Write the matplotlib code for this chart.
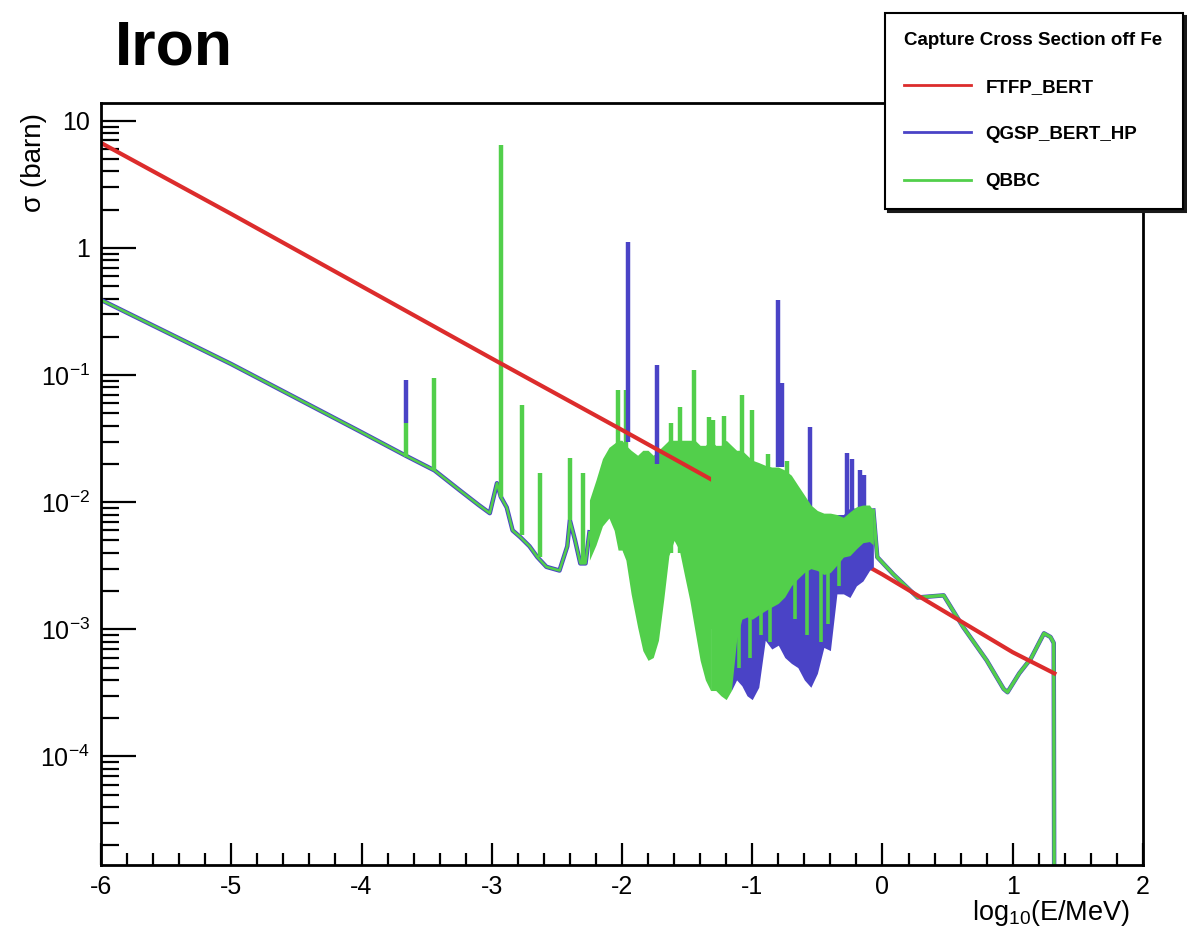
import numpy as np
import matplotlib
matplotlib.use('Agg')
import matplotlib.pyplot as plt
from matplotlib.ticker import MultipleLocator, LogLocator, NullFormatter

plt.rcParams['font.family'] = ['Liberation Sans', 'DejaVu Sans']
plt.rcParams['mathtext.fontset'] = 'custom'
plt.rcParams['mathtext.rm'] = 'Liberation Sans'
plt.rcParams['mathtext.it'] = 'Liberation Sans:italic'
plt.rcParams['mathtext.bf'] = 'Liberation Sans:bold'
plt.rcParams['mathtext.default'] = 'regular'

# FTFP_BERT: smooth capture cross section (log10 E/MeV, barn)
ftfp_x = [-6.0, -5.0, -4.0, -3.0, -2.0, -1.0, 0.0, 1.0, 1.32]
ftfp_y = [6.7, 1.85, 0.50, 0.135, 0.037, 0.0100, 0.0027, 0.00066, 0.00045]

# HP data below the resonance region (same for QGSP_BERT_HP and QBBC)
hp_low_x = [-6.0, -5.0, -4.0, -3.66, -3.44, -3.25, -3.10, -3.015, -2.96, -2.93,
            -2.885, -2.84, -2.78, -2.71, -2.65, -2.58, -2.48, -2.42, -2.40,
            -2.36, -2.32, -2.28, -2.25]
hp_low_y = [0.39, 0.122, 0.0355, 0.0232, 0.0178, 0.0125, 0.0095, 0.0082, 0.0141, 0.011,
            0.0091, 0.0060, 0.0053, 0.0045, 0.0037, 0.0031, 0.0029, 0.0045, 0.0072,
            0.0050, 0.0033, 0.0033, 0.0058]

# HP data above the resolved resonances, up to 20 MeV
hp_high_x = [-0.07, -0.04, 0.085, 0.27, 0.47, 0.62, 0.80, 0.93, 0.96, 1.05,
             1.14, 1.24, 1.29, 1.315, 1.32]
hp_high_y = [0.0086, 0.0037, 0.0027, 0.00178, 0.00185, 0.00104, 0.00057, 0.00034, 0.00032, 0.00045,
             0.00059, 0.00093, 0.00087, 0.00078, 1e-6]

# QBBC resonance region: lower / upper envelope of the rapidly varying histogram
res_x = np.array([-2.25, -2.20, -2.15, -2.10, -2.06, -2.03, -2.00, -1.97, -1.93, -1.88,
                  -1.84, -1.80, -1.76, -1.72, -1.68, -1.64, -1.60, -1.56, -1.52, -1.48,
                  -1.44, -1.40, -1.36, -1.32, -1.28, -1.24, -1.20, -1.16, -1.12, -1.08,
                  -1.04, -1.00, -0.95, -0.90, -0.85, -0.80, -0.75, -0.70, -0.65, -0.60,
                  -0.55, -0.50, -0.45, -0.40, -0.35, -0.30, -0.25, -0.20, -0.15, -0.10,
                  -0.07])
qbbc_lo = [0.0035, 0.0046, 0.0065, 0.0075, 0.0060, 0.0042, 0.0042, 0.0035, 0.0019, 0.00104,
           0.00068, 0.00057, 0.0006, 0.00082, 0.0017, 0.0038, 0.0050, 0.0042, 0.00266, 0.0017,
           0.00098, 0.00057, 0.0004, 0.00033, 0.00033, 0.0003, 0.00028, 0.00033, 0.00082, 0.0012,
           0.00125, 0.0012, 0.0013, 0.0014, 0.0015, 0.0016, 0.0018, 0.0022, 0.0025, 0.0028,
           0.0030, 0.0029, 0.0027, 0.0028, 0.0032, 0.0037, 0.0038, 0.0043, 0.0048, 0.0049,
           0.0046]
qbbc_hi = [0.0104, 0.0149, 0.022, 0.027, 0.029, 0.0307, 0.0307, 0.028, 0.0256, 0.0234,
           0.0256, 0.0256, 0.0234, 0.0256, 0.028, 0.0307, 0.0307, 0.0307, 0.0307, 0.0307,
           0.0307, 0.028, 0.028, 0.0307, 0.028, 0.028, 0.0307, 0.028, 0.0256, 0.0256,
           0.0234, 0.0214, 0.0205, 0.0195, 0.0189, 0.0189, 0.0179, 0.0163, 0.0136, 0.0114,
           0.0095, 0.0086, 0.0082, 0.0082, 0.0080, 0.0076, 0.0084, 0.0092, 0.0095, 0.0095,
           0.0086]

# QGSP_BERT_HP resonance region envelope
qgsp_res_x = [-1.16, -1.12, -1.08, -1.04, -1.00, -0.95, -0.90, -0.85, -0.80, -0.75,
              -0.70, -0.65, -0.60, -0.55, -0.50, -0.45, -0.40, -0.35, -0.30, -0.25,
              -0.20, -0.15, -0.10, -0.07]
qgsp_lo = [0.00033, 0.0004, 0.00036, 0.0003, 0.00028, 0.00035, 0.00082, 0.0007, 0.00075, 0.0006,
           0.00054, 0.0005, 0.0004, 0.00035, 0.00045, 0.00072, 0.00068, 0.0019, 0.0019, 0.00178,
           0.0022, 0.0024, 0.0029, 0.0031]
qgsp_hi = [0.02, 0.02, 0.02, 0.02, 0.02, 0.02, 0.018, 0.018, 0.018, 0.016,
           0.015, 0.013, 0.011, 0.009, 0.008, 0.008, 0.008, 0.008, 0.008, 0.009,
           0.009, 0.009, 0.009, 0.008]

# narrow resonances (position, foot, peak)
qbbc_peak_x = [-3.655, -3.44, -2.93, -2.77, -2.63, -2.40, -2.30, -2.03, -1.97,
               -1.62, -1.555, -1.45, -1.33, -1.305, -1.22, -1.08, -1.00, -0.88, -0.73]
qbbc_peak_base = [0.0225, 0.0178, 0.011, 0.0055, 0.0037, 0.0072, 0.0033, 0.006, 0.004,
                  0.004, 0.004, 0.002, 0.001, 0.001, 0.001, 0.002, 0.002, 0.003, 0.003]
qbbc_peak_top = [0.042, 0.095, 6.4, 0.058, 0.017, 0.0224, 0.017, 0.076, 0.076,
                 0.042, 0.056, 0.11, 0.047, 0.044, 0.048, 0.07, 0.053, 0.024, 0.021]

# deep QBBC minima reaching into the QGSP_BERT_HP band
qbbc_dip_x = [-1.10, -1.02, -0.93, -0.86, -0.67, -0.58, -0.47, -0.42, -0.33]
qbbc_dip_low = [0.0005, 0.0006, 0.0009, 0.0008, 0.0012, 0.0009, 0.0008, 0.0011, 0.0022]
qbbc_dip_top = [0.005, 0.005, 0.005, 0.005, 0.005, 0.005, 0.005, 0.005, 0.005]

qgsp_peak_x = [-3.655, -1.954, -1.731, -0.80, -0.77, -0.554, -0.27, -0.235, -0.17, -0.145]
qgsp_peak_base = [0.042, 0.03, 0.02, 0.019, 0.019, 0.009, 0.008, 0.008, 0.008, 0.008]
qgsp_peak_top = [0.091, 1.11, 0.12, 0.39, 0.087, 0.039, 0.0244, 0.022, 0.0179, 0.0165]

series_names = ['FTFP_BERT', 'QGSP_BERT_HP', 'QBBC']
legend_title = 'Capture Cross Section off Fe'

x_ticks = [-6, -5, -4, -3, -2, -1, 0, 1, 2]
x_tick_labels = ['-6', '-5', '-4', '-3', '-2', '-1', '0', '1', '2']
y_ticks = [1e-4, 1e-3, 1e-2, 1e-1, 1, 10]
y_tick_labels = ['10$^{-4}$', '10$^{-3}$', '10$^{-2}$', '10$^{-1}$', '1', '10']

RED = '#dc2c2c'
BLUE = '#4a43c6'
GREEN = '#52cf4b'

fig = plt.figure(figsize=(11.87, 9.39), dpi=100)
ax = fig.add_axes([0.0851, 0.0788, 0.8778, 0.8115])
ax.set_yscale('log')

# QGSP_BERT_HP (mostly hidden under QBBC)
h_blue, = ax.plot(hp_low_x, hp_low_y, color=BLUE, lw=3.2, zorder=2)
ax.plot(hp_high_x, hp_high_y, color=BLUE, lw=3.2, zorder=2)
ax.vlines(qgsp_peak_x, qgsp_peak_base, qgsp_peak_top, color=BLUE, lw=3.2, zorder=3.5)

# QBBC, sparse part of the resonance region
h_green, = ax.plot(hp_low_x, hp_low_y, color=GREEN, lw=1.8, zorder=4)
ax.plot(hp_high_x, hp_high_y, color=GREEN, lw=2.4, zorder=4)
sparse = res_x <= -1.32
ax.fill_between(res_x, qbbc_lo, qbbc_hi, where=sparse, color=GREEN, lw=0, zorder=3)
ax.vlines(qbbc_peak_x, qbbc_peak_base, qbbc_peak_top, color=GREEN, lw=3.2, zorder=3.2)

# FTFP_BERT: over the sparse resonances, under the dense ones
h_red, = ax.plot(ftfp_x, ftfp_y, color=RED, lw=3.0, zorder=4.2)

# dense resonances cover the smooth curve
ax.fill_between(qgsp_res_x, qgsp_lo, qgsp_hi, color=BLUE, lw=0, zorder=4.25)
ax.fill_between(res_x, qbbc_lo, qbbc_hi, where=res_x >= -1.32,
                color=GREEN, lw=0, zorder=4.3)
ax.vlines(qbbc_dip_x, qbbc_dip_low, qbbc_dip_top, color=GREEN, lw=2.6, zorder=4.3)

ax.set_xlim(-6, 2)
ax.set_ylim(1.4e-5, 13.8)

ax.set_xticks(x_ticks, x_tick_labels)
ax.xaxis.set_minor_locator(MultipleLocator(0.2))
ax.set_yticks(y_ticks, y_tick_labels)
ax.yaxis.set_minor_locator(LogLocator(base=10, subs=np.arange(2, 10), numticks=20))
ax.yaxis.set_minor_formatter(NullFormatter())

ax.tick_params(axis='both', which='both', direction='in', top=False, right=False,
               width=1.6, labelsize=18)
ax.tick_params(axis='x', which='major', length=16, pad=7)
ax.tick_params(axis='x', which='minor', length=8.5)
ax.tick_params(axis='y', which='major', length=25, pad=8)
ax.tick_params(axis='y', which='minor', length=13)
for sp in ax.spines.values():
    sp.set_linewidth(2.0)
    sp.set_zorder(5)

ax.set_xlabel('log$_{10}$(E/MeV)', fontsize=19.5, loc='right')
ax.xaxis.set_label_coords(0.9875, -0.043)
ax.set_ylabel('σ (barn)', fontsize=20, loc='top')
ax.yaxis.set_label_coords(-0.052, 0.987)

fig.text(0.097, 0.931, 'Iron', fontsize=45, fontweight='bold', va='baseline')

leg = ax.legend(handles=[h_red, h_blue, h_green], labels=series_names,
                title=legend_title, loc='upper left',
                bbox_to_anchor=(0.7456, 0.0, 0.2511, 0.9862),
                bbox_transform=fig.transFigure, mode='expand', borderaxespad=0,
                alignment='left', fancybox=False,
                shadow={'color': '#1a1a1a', 'alpha': 1, 'ox': 2.5, 'oy': -2.5},
                prop={'weight': 'bold', 'size': 13.5},
                title_fontproperties={'weight': 'bold', 'size': 13.5},
                handlelength=3.6, handletextpad=0.75, labelspacing=1.6,
                borderpad=1.0)
leg.get_frame().set_edgecolor('black')
leg.get_frame().set_linewidth(1.5)
leg.get_frame().set_facecolor('white')
for line in leg.get_lines():
    line.set_linewidth(2.0)
leg.set_zorder(10)

fig.savefig('out.png', dpi=100)
